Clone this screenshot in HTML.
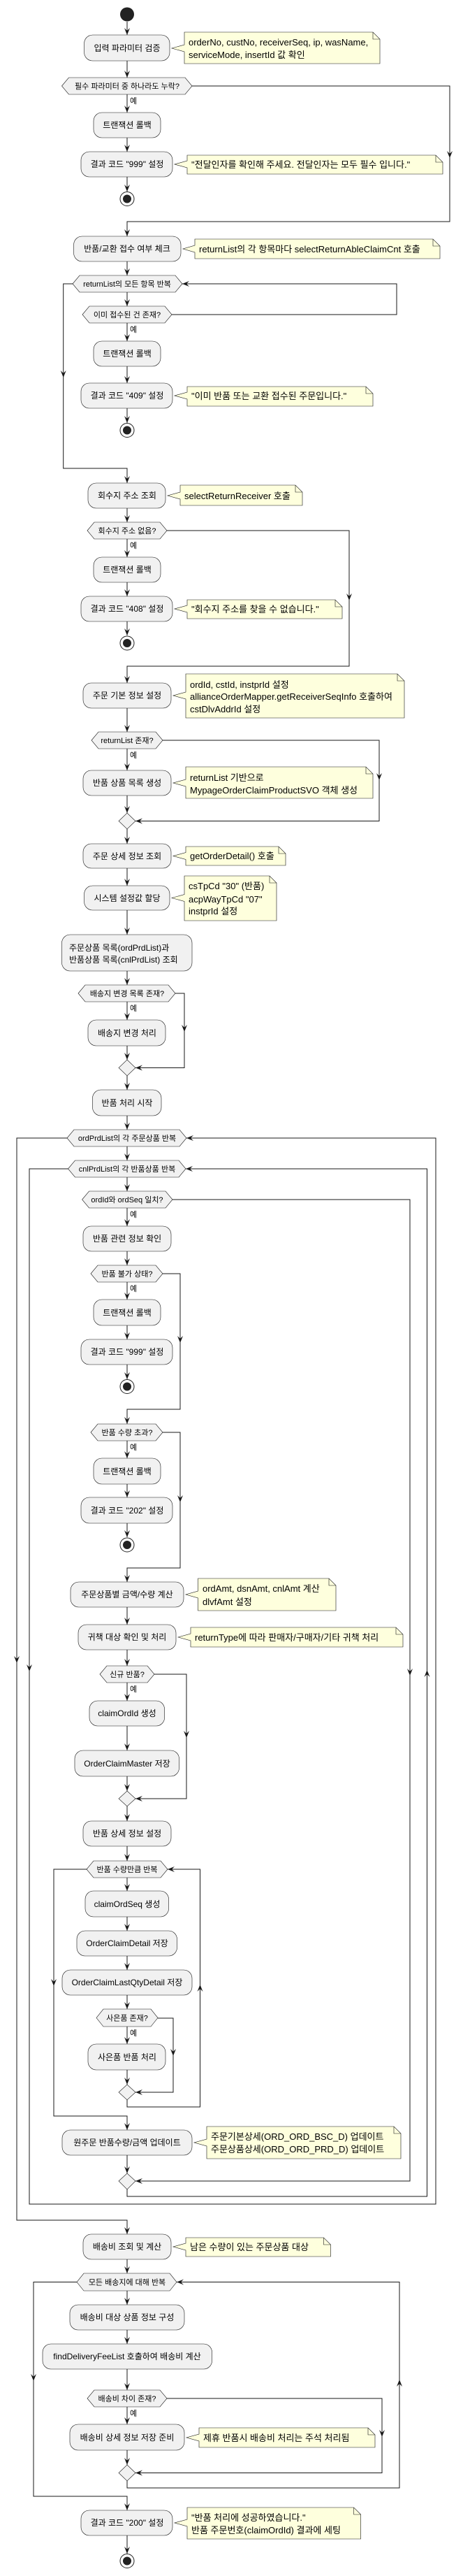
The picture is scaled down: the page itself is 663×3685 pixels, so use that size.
<!DOCTYPE html>
<html><head><meta charset="utf-8">
<style>
html,body{margin:0;padding:0;background:#fff;}
svg{display:block;}
text{font-family:"Liberation Sans","Noto Sans CJK KR",sans-serif;fill:#000;}
.b{fill:#F1F1F1;stroke:#181818;stroke-width:0.6;}
.n{fill:#FEFFDD;stroke:#181818;stroke-width:0.6;}
.l{fill:none;stroke:#181818;stroke-width:1;}
.t{font-size:12px;text-anchor:middle;}
.d{font-size:11px;text-anchor:middle;}
.nt{font-size:13px;}
.y{font-size:11px;}
.a{fill:#181818;}
</style></head><body>
<svg width="663" height="3685" viewBox="0 0 663 3685" xmlns="http://www.w3.org/2000/svg">
<defs>
<path id="ar" d="M-4,-10 L0,0 L4,-10 L0,-6 Z"/>
</defs>

<circle cx="182" cy="20.5" r="10" fill="#222"/>

<g class="l">
<path d="M182,31V50"/>
<path d="M182,87V111"/>
<path d="M182,135V161"/>
<path d="M182,197V217"/>
<path d="M182,253V274"/>
<path d="M275,123H644V317H182V338"/>
<path d="M182,374V394"/>
<path d="M182,418V438"/>
<path d="M246,450H568V406H261"/>
<path d="M182,462V488"/>
<path d="M182,524V548"/>
<path d="M182,584V605"/>
<path d="M104,406H90.7V670H182V691"/>
<path d="M182,727V747"/>
<path d="M182,771V797"/>
<path d="M182,833V853"/>
<path d="M182,889V909"/>
<path d="M239,759H500V953H182V977"/>
<path d="M182,1013V1047"/>
<path d="M182,1071V1102"/>
<path d="M182,1138V1163"/>
<path d="M233,1059H543V1174.5H194"/>
<path d="M182,1186V1207"/>
<path d="M182,1242V1267"/>
<path d="M182,1302V1337"/>
<path d="M182,1389V1409"/>
<path d="M182,1433V1459"/>
<path d="M182,1496V1516"/>
<path d="M251,1421H264V1527.5H194"/>
<path d="M182,1539V1559"/>
<path d="M182,1596V1616"/>
<path d="M182,1640V1660"/>
<path d="M182,1684V1704"/>
<path d="M182,1728V1754"/>
<path d="M182,1790V1810"/>
<path d="M182,1834V1859"/>
<path d="M182,1896V1916"/>
<path d="M182,1952V1973"/>
<path d="M233,1822H258V2016H182V2037"/>
<path d="M182,2061V2086"/>
<path d="M182,2123V2142"/>
<path d="M182,2179V2199"/>
<path d="M233,2049H258V2243H182V2263"/>
<path d="M182,2299V2324"/>
<path d="M182,2360V2383"/>
<path d="M182,2407V2433"/>
<path d="M182,2469V2504"/>
<path d="M182,2541V2562"/>
<path d="M221,2395H267V2573H194"/>
<path d="M182,2584V2605"/>
<path d="M182,2641V2662"/>
<path d="M182,2686V2705"/>
<path d="M182,2742V2762"/>
<path d="M182,2798V2818"/>
<path d="M182,2854V2874"/>
<path d="M182,2899V2924"/>
<path d="M182,2961V2982"/>
<path d="M226,2887H248V2993H194"/>
<path d="M182,3004V3014H286.5V2674H240"/>
<path d="M124,2674H77V3027H182V3047"/>
<path d="M182,3083V3109"/>
<path d="M247,1716H587V3120H194"/>
<path d="M182,3132V3142H611.5V1672H266"/>
<path d="M97.5,1672H42V3153H624V1628H267"/>
<path d="M96,1628H24V3176H182V3196"/>
<path d="M182,3232V3252"/>
<path d="M182,3277V3297"/>
<path d="M182,3333V3353"/>
<path d="M182,3389V3419"/>
<path d="M182,3443V3468"/>
<path d="M182,3505V3526"/>
<path d="M239,3431H547V3537.5H194"/>
<path d="M182,3549V3559H572V3264.5H253"/>
<path d="M110,3264.5H48V3571H182V3591"/>
<path d="M182,3627V3653"/>
</g>

<g class="a">
<use href="#ar" transform="translate(182,50)"/>
<use href="#ar" transform="translate(182,111)"/>
<use href="#ar" transform="translate(182,161)"/>
<use href="#ar" transform="translate(182,217)"/>
<use href="#ar" transform="translate(182,274)"/>
<use href="#ar" transform="translate(644,226)"/>
<use href="#ar" transform="translate(182,338)"/>
<use href="#ar" transform="translate(182,394)"/>
<use href="#ar" transform="translate(182,438)"/>
<use href="#ar" transform="translate(261,406) rotate(90)"/>
<use href="#ar" transform="translate(182,488)"/>
<use href="#ar" transform="translate(182,548)"/>
<use href="#ar" transform="translate(182,605)"/>
<use href="#ar" transform="translate(90.7,540)"/>
<use href="#ar" transform="translate(182,691)"/>
<use href="#ar" transform="translate(182,747)"/>
<use href="#ar" transform="translate(182,797)"/>
<use href="#ar" transform="translate(182,853)"/>
<use href="#ar" transform="translate(182,909)"/>
<use href="#ar" transform="translate(500,859)"/>
<use href="#ar" transform="translate(182,977)"/>
<use href="#ar" transform="translate(182,1047)"/>
<use href="#ar" transform="translate(182,1102)"/>
<use href="#ar" transform="translate(182,1163)"/>
<use href="#ar" transform="translate(194,1174.5) rotate(90)"/>
<use href="#ar" transform="translate(543,1116)"/>
<use href="#ar" transform="translate(182,1207)"/>
<use href="#ar" transform="translate(182,1267)"/>
<use href="#ar" transform="translate(182,1337)"/>
<use href="#ar" transform="translate(182,1409)"/>
<use href="#ar" transform="translate(182,1459)"/>
<use href="#ar" transform="translate(182,1516)"/>
<use href="#ar" transform="translate(194,1527.5) rotate(90)"/>
<use href="#ar" transform="translate(264,1476)"/>
<use href="#ar" transform="translate(182,1559)"/>
<use href="#ar" transform="translate(182,1616)"/>
<use href="#ar" transform="translate(182,1660)"/>
<use href="#ar" transform="translate(267,1628) rotate(90)"/>
<use href="#ar" transform="translate(266,1672) rotate(90)"/>
<use href="#ar" transform="translate(182,1704)"/>
<use href="#ar" transform="translate(182,1754)"/>
<use href="#ar" transform="translate(182,1810)"/>
<use href="#ar" transform="translate(182,1859)"/>
<use href="#ar" transform="translate(182,1916)"/>
<use href="#ar" transform="translate(182,1973)"/>
<use href="#ar" transform="translate(258,1921)"/>
<use href="#ar" transform="translate(182,2037)"/>
<use href="#ar" transform="translate(182,2086)"/>
<use href="#ar" transform="translate(182,2142)"/>
<use href="#ar" transform="translate(182,2199)"/>
<use href="#ar" transform="translate(258,2149)"/>
<use href="#ar" transform="translate(182,2263)"/>
<use href="#ar" transform="translate(182,2324)"/>
<use href="#ar" transform="translate(24,2379)"/>
<use href="#ar" transform="translate(42,2391)"/>
<use href="#ar" transform="translate(587,2397)"/>
<use href="#ar" transform="translate(611.5,2389) rotate(180)"/>
<use href="#ar" transform="translate(182,2383)"/>
<use href="#ar" transform="translate(182,2433)"/>
<use href="#ar" transform="translate(182,2504)"/>
<use href="#ar" transform="translate(182,2562)"/>
<use href="#ar" transform="translate(194,2573) rotate(90)"/>
<use href="#ar" transform="translate(267,2486)"/>
<use href="#ar" transform="translate(182,2605)"/>
<use href="#ar" transform="translate(182,2662)"/>
<use href="#ar" transform="translate(240,2674) rotate(90)"/>
<use href="#ar" transform="translate(182,2705)"/>
<use href="#ar" transform="translate(182,2762)"/>
<use href="#ar" transform="translate(182,2818)"/>
<use href="#ar" transform="translate(77,2841)"/>
<use href="#ar" transform="translate(286.5,2839) rotate(180)"/>
<use href="#ar" transform="translate(182,2874)"/>
<use href="#ar" transform="translate(182,2924)"/>
<use href="#ar" transform="translate(182,2982)"/>
<use href="#ar" transform="translate(194,2993) rotate(90)"/>
<use href="#ar" transform="translate(248,2941)"/>
<use href="#ar" transform="translate(182,3047)"/>
<use href="#ar" transform="translate(182,3109)"/>
<use href="#ar" transform="translate(194,3120) rotate(90)"/>
<use href="#ar" transform="translate(182,3196)"/>
<use href="#ar" transform="translate(182,3252)"/>
<use href="#ar" transform="translate(253,3264.5) rotate(90)"/>
<use href="#ar" transform="translate(182,3297)"/>
<use href="#ar" transform="translate(182,3353)"/>
<use href="#ar" transform="translate(48,3406)"/>
<use href="#ar" transform="translate(572,3404) rotate(180)"/>
<use href="#ar" transform="translate(182,3419)"/>
<use href="#ar" transform="translate(182,3468)"/>
<use href="#ar" transform="translate(182,3526)"/>
<use href="#ar" transform="translate(194,3537.5) rotate(90)"/>
<use href="#ar" transform="translate(547,3486)"/>
<use href="#ar" transform="translate(182,3591)"/>
<use href="#ar" transform="translate(182,3653)"/>
</g>

<g>
<circle cx="182" cy="284.5" r="10" fill="#fff" stroke="#222" stroke-width="1"/><circle cx="182" cy="284.5" r="6" fill="#222"/>
<circle cx="182" cy="615.5" r="10" fill="#fff" stroke="#222" stroke-width="1"/><circle cx="182" cy="615.5" r="6" fill="#222"/>
<circle cx="182" cy="920" r="10" fill="#fff" stroke="#222" stroke-width="1"/><circle cx="182" cy="920" r="6" fill="#222"/>
<circle cx="182" cy="1983.5" r="10" fill="#fff" stroke="#222" stroke-width="1"/><circle cx="182" cy="1983.5" r="6" fill="#222"/>
<circle cx="182" cy="2210" r="10" fill="#fff" stroke="#222" stroke-width="1"/><circle cx="182" cy="2210" r="6" fill="#222"/>
<circle cx="182" cy="3663.5" r="10" fill="#fff" stroke="#222" stroke-width="1"/><circle cx="182" cy="3663.5" r="6" fill="#222"/>
</g>

<g class="b">
<polygon points="182,1163 194,1174.5 182,1186 170,1174.5"/>
<polygon points="182,1516 194,1527.5 182,1539 170,1527.5"/>
<polygon points="182,2562 194,2573 182,2584 170,2573"/>
<polygon points="182,2982 194,2993 182,3004 170,2993"/>
<polygon points="182,3109 194,3120 182,3132 170,3120"/>
<polygon points="182,3526 194,3537.5 182,3549 170,3537.5"/>
</g>

<g class="b">
<rect x="120.6" y="50" width="122.4" height="37" rx="12"/>
<rect x="134" y="161" width="96" height="36" rx="12"/>
<rect x="116" y="217" width="131" height="36" rx="12"/>
<rect x="105.6" y="338" width="153.4" height="36" rx="12"/>
<rect x="134" y="488" width="96" height="36" rx="12"/>
<rect x="116" y="548" width="131" height="36" rx="12"/>
<rect x="126" y="691" width="111" height="36" rx="12"/>
<rect x="134" y="797" width="96" height="36" rx="12"/>
<rect x="116" y="853" width="131" height="36" rx="12"/>
<rect x="119" y="977" width="126" height="36" rx="12"/>
<rect x="119" y="1102" width="126" height="36" rx="12"/>
<rect x="119" y="1207" width="126" height="35" rx="12"/>
<rect x="120.6" y="1267" width="122.4" height="35" rx="12"/>
<rect x="88.5" y="1337" width="186.5" height="52" rx="12"/>
<rect x="126" y="1459" width="111" height="37" rx="12"/>
<rect x="132.5" y="1559" width="98.5" height="37" rx="12"/>
<rect x="119" y="1754" width="126" height="36" rx="12"/>
<rect x="134" y="1859" width="96" height="37" rx="12"/>
<rect x="116" y="1916" width="131" height="36" rx="12"/>
<rect x="134" y="2086" width="96" height="37" rx="12"/>
<rect x="116" y="2142" width="131" height="37" rx="12"/>
<rect x="101" y="2263" width="162" height="36" rx="12"/>
<rect x="112" y="2324" width="140" height="36" rx="12"/>
<rect x="128" y="2433" width="107.6" height="36" rx="12"/>
<rect x="107" y="2504" width="149.5" height="37" rx="12"/>
<rect x="119" y="2605" width="126" height="36" rx="12"/>
<rect x="122" y="2705" width="119.6" height="37" rx="12"/>
<rect x="110" y="2762" width="143.5" height="36" rx="12"/>
<rect x="89" y="2818" width="186" height="36" rx="12"/>
<rect x="126" y="2924" width="111" height="37" rx="12"/>
<rect x="89" y="3047" width="186" height="36" rx="12"/>
<rect x="119" y="3196" width="126" height="36" rx="12"/>
<rect x="100" y="3297" width="164" height="36" rx="12"/>
<rect x="61" y="3353" width="242.6" height="36" rx="12"/>
<rect x="100" y="3468" width="164" height="37" rx="12"/>
<rect x="116" y="3591" width="131" height="36" rx="12"/>
</g>

<g class="b">
<polygon points="88.5,123 98.5,111 265,111 275,123 265,135 98.5,135"/>
<polygon points="104,406 114,394 251,394 261,406 251,418 114,418"/>
<polygon points="118,450 128,438 236,438 246,450 236,462 128,462"/>
<polygon points="125,759 135,747 229,747 239,759 229,771 135,771"/>
<polygon points="131,1059 141,1047 223,1047 233,1059 223,1071 141,1071"/>
<polygon points="112,1421 122,1409 241,1409 251,1421 241,1433 122,1433"/>
<polygon points="96,1628 106,1616 257,1616 267,1628 257,1640 106,1640"/>
<polygon points="97.5,1672 107.5,1660 256,1660 266,1672 256,1684 107.5,1684"/>
<polygon points="117.6,1716 127.6,1704 237,1704 247,1716 237,1728 127.6,1728"/>
<polygon points="130,1822 140,1810 223,1810 233,1822 223,1834 140,1834"/>
<polygon points="130,2049 140,2037 223,2037 233,2049 223,2061 140,2061"/>
<polygon points="143,2395 153,2383 211,2383 221,2395 211,2407 153,2407"/>
<polygon points="124,2674 134,2662 230,2662 240,2674 230,2686 134,2686"/>
<polygon points="138,2886.5 148,2874 216,2874 226,2886.5 216,2899 148,2899"/>
<polygon points="110,3264.5 120,3252 243,3252 253,3264.5 243,3277 120,3277"/>
<polygon points="125,3431 135,3419 229,3419 239,3431 229,3443 135,3443"/>
</g>

<g class="n">
<path d="M264,46H534L544,56V91H264V74L246,69L264,64Z"/><path d="M534,46V56H544" fill="none"/>
<path d="M268,222H624L634,232V249H268V240L250,235L268,230Z"/><path d="M624,222V232H634" fill="none"/>
<path d="M279,342H620L630,352V370H279V361L262,356L279,351Z"/><path d="M620,342V352H630" fill="none"/>
<path d="M268,553H524L534,563V581H268V571L250,566L268,561Z"/><path d="M524,553V563H534" fill="none"/>
<path d="M258,694H423L433,704V723H258V714L240,709L258,704Z"/><path d="M423,694V704H433" fill="none"/>
<path d="M268,858H480L490,868V885H268V876L250,871L268,866Z"/><path d="M480,858V868H490" fill="none"/>
<path d="M266,964H569L579,974V1027H266V1000L248,995L266,990Z"/><path d="M569,964V974H579" fill="none"/>
<path d="M266,1097H524L534,1107V1142H266V1125L248,1120L266,1115Z"/><path d="M524,1097V1107H534" fill="none"/>
<path d="M266,1211H399L409,1221V1238H266V1229.5L248,1224.5L266,1219.5Z"/><path d="M399,1211V1221H409" fill="none"/>
<path d="M264,1253H386L396,1263V1317H264V1289.5L246,1284.5L264,1279.5Z"/><path d="M386,1253V1263H396" fill="none"/>
<path d="M283.5,2258H471L481,2268V2304H283.5V2286L266,2281L283.5,2276Z"/><path d="M471,2258V2268H481" fill="none"/>
<path d="M273,2328H567L577,2338V2356H273V2347L255,2342L273,2337Z"/><path d="M567,2328V2338H577" fill="none"/>
<path d="M296,3042H564L574,3052V3088H296V3070L278,3065L296,3060Z"/><path d="M564,3042V3052H574" fill="none"/>
<path d="M266,3201H463.5L473.5,3211V3228H266V3219L248,3214L266,3209Z"/><path d="M463.5,3201V3211H473.5" fill="none"/>
<path d="M285,3473H527L537,3483V3501H285V3492L267,3487L285,3482Z"/><path d="M527,3473V3483H537" fill="none"/>
<path d="M268,3587H506.6L516.6,3597V3632H268V3614L250,3609L268,3604Z"/><path d="M506.6,3587V3597H516.6" fill="none"/>
</g>

<g class="t">
<text x="182" y="73">입력 파라미터 검증</text>
<text x="182" y="183">트랜잭션 롤백</text>
<text x="182" y="239">결과 코드 "999" 설정</text>
<text x="182" y="360">반품/교환 접수 여부 체크</text>
<text x="182" y="510">트랜잭션 롤백</text>
<text x="182" y="570">결과 코드 "409" 설정</text>
<text x="182" y="713">회수지 주소 조회</text>
<text x="182" y="819">트랜잭션 롤백</text>
<text x="182" y="875">결과 코드 "408" 설정</text>
<text x="182" y="999">주문 기본 정보 설정</text>
<text x="182" y="1124">반품 상품 목록 생성</text>
<text x="182" y="1229">주문 상세 정보 조회</text>
<text x="182" y="1289">시스템 설정값 할당</text>
<text x="99" y="1360" text-anchor="start">주문상품 목록(ordPrdList)과</text>
<text x="99" y="1377" text-anchor="start">반품상품 목록(cnlPrdList) 조회</text>
<text x="182" y="1482">배송지 변경 처리</text>
<text x="182" y="1582">반품 처리 시작</text>
<text x="182" y="1776">반품 관련 정보 확인</text>
<text x="182" y="1882">트랜잭션 롤백</text>
<text x="182" y="1938">결과 코드 "999" 설정</text>
<text x="182" y="2109">트랜잭션 롤백</text>
<text x="182" y="2165">결과 코드 "202" 설정</text>
<text x="182" y="2285">주문상품별 금액/수량 계산</text>
<text x="182" y="2346">귀책 대상 확인 및 처리</text>
<text x="182" y="2455">claimOrdId 생성</text>
<text x="182" y="2527">OrderClaimMaster 저장</text>
<text x="182" y="2627">반품 상세 정보 설정</text>
<text x="182" y="2728">claimOrdSeq 생성</text>
<text x="182" y="2784">OrderClaimDetail 저장</text>
<text x="182" y="2840">OrderClaimLastQtyDetail 저장</text>
<text x="182" y="2947">사은품 반품 처리</text>
<text x="182" y="3069">원주문 반품수량/금액 업데이트</text>
<text x="182" y="3218">배송비 조회 및 계산</text>
<text x="182" y="3319">배송비 대상 상품 정보 구성</text>
<text x="182" y="3375">findDeliveryFeeList 호출하여 배송비 계산</text>
<text x="182" y="3491">배송비 상세 정보 저장 준비</text>
<text x="182" y="3613">결과 코드 "200" 설정</text>
</g>

<g class="d">
<text x="182" y="127">필수 파라미터 중 하나라도 누락?</text>
<text x="182" y="410">returnList의 모든 항목 반복</text>
<text x="182" y="454">이미 접수된 건 존재?</text>
<text x="182" y="763">회수지 주소 없음?</text>
<text x="182" y="1063">returnList 존재?</text>
<text x="182" y="1425">배송지 변경 목록 존재?</text>
<text x="182" y="1632">ordPrdList의 각 주문상품 반복</text>
<text x="182" y="1676">cnlPrdList의 각 반품상품 반복</text>
<text x="182" y="1720">ordId와 ordSeq 일치?</text>
<text x="182" y="1826">반품 불가 상태?</text>
<text x="182" y="2053">반품 수량 초과?</text>
<text x="182" y="2399">신규 반품?</text>
<text x="182" y="2678">반품 수량만큼 반복</text>
<text x="182" y="2890.5">사은품 존재?</text>
<text x="182" y="3268.5">모든 배송지에 대해 반복</text>
<text x="182" y="3435">배송비 차이 존재?</text>
</g>

<g class="y">
<text x="186" y="148">예</text>
<text x="186" y="475">예</text>
<text x="186" y="784">예</text>
<text x="186" y="1084">예</text>
<text x="186" y="1446">예</text>
<text x="186" y="1741">예</text>
<text x="186" y="1847">예</text>
<text x="186" y="2074">예</text>
<text x="186" y="2420">예</text>
<text x="186" y="2912">예</text>
<text x="186" y="3456">예</text>
</g>

<g class="nt">
<text x="270" y="65">orderNo, custNo, receiverSeq, ip, wasName,</text>
<text x="270" y="83">serviceMode, insertId 값 확인</text>
<text x="274" y="240">"전달인자를 확인해 주세요. 전달인자는 모두 필수 입니다."</text>
<text x="285" y="361">returnList의 각 항목마다 selectReturnAbleClaimCnt 호출</text>
<text x="274" y="571">"이미 반품 또는 교환 접수된 주문입니다."</text>
<text x="264" y="714">selectReturnReceiver 호출</text>
<text x="274" y="876">"회수지 주소를 찾을 수 없습니다."</text>
<text x="272" y="984">ordId, cstId, instprId 설정</text>
<text x="272" y="1001">allianceOrderMapper.getReceiverSeqInfo 호출하여</text>
<text x="272" y="1019">cstDlvAddrId 설정</text>
<text x="272" y="1117">returnList 기반으로</text>
<text x="272" y="1135">MypageOrderClaimProductSVO 객체 생성</text>
<text x="272" y="1229">getOrderDetail() 호출</text>
<text x="270" y="1272">csTpCd "30" (반품)</text>
<text x="270" y="1291">acpWayTpCd "07"</text>
<text x="270" y="1308">instprId 설정</text>
<text x="290" y="2277">ordAmt, dsnAmt, cnlAmt 계산</text>
<text x="290" y="2296">dlvfAmt 설정</text>
<text x="279" y="2347">returnType에 따라 판매자/구매자/기타 귀책 처리</text>
<text x="302" y="3061">주문기본상세(ORD_ORD_BSC_D) 업데이트</text>
<text x="302" y="3079">주문상품상세(ORD_ORD_PRD_D) 업데이트</text>
<text x="272" y="3219">남은 수량이 있는 주문상품 대상</text>
<text x="291" y="3492">제휴 반품시 배송비 처리는 주석 처리됨</text>
<text x="274" y="3606">"반품 처리에 성공하였습니다."</text>
<text x="274" y="3624">반품 주문번호(claimOrdId) 결과에 세팅</text>
</g>
</svg>
</body></html>
